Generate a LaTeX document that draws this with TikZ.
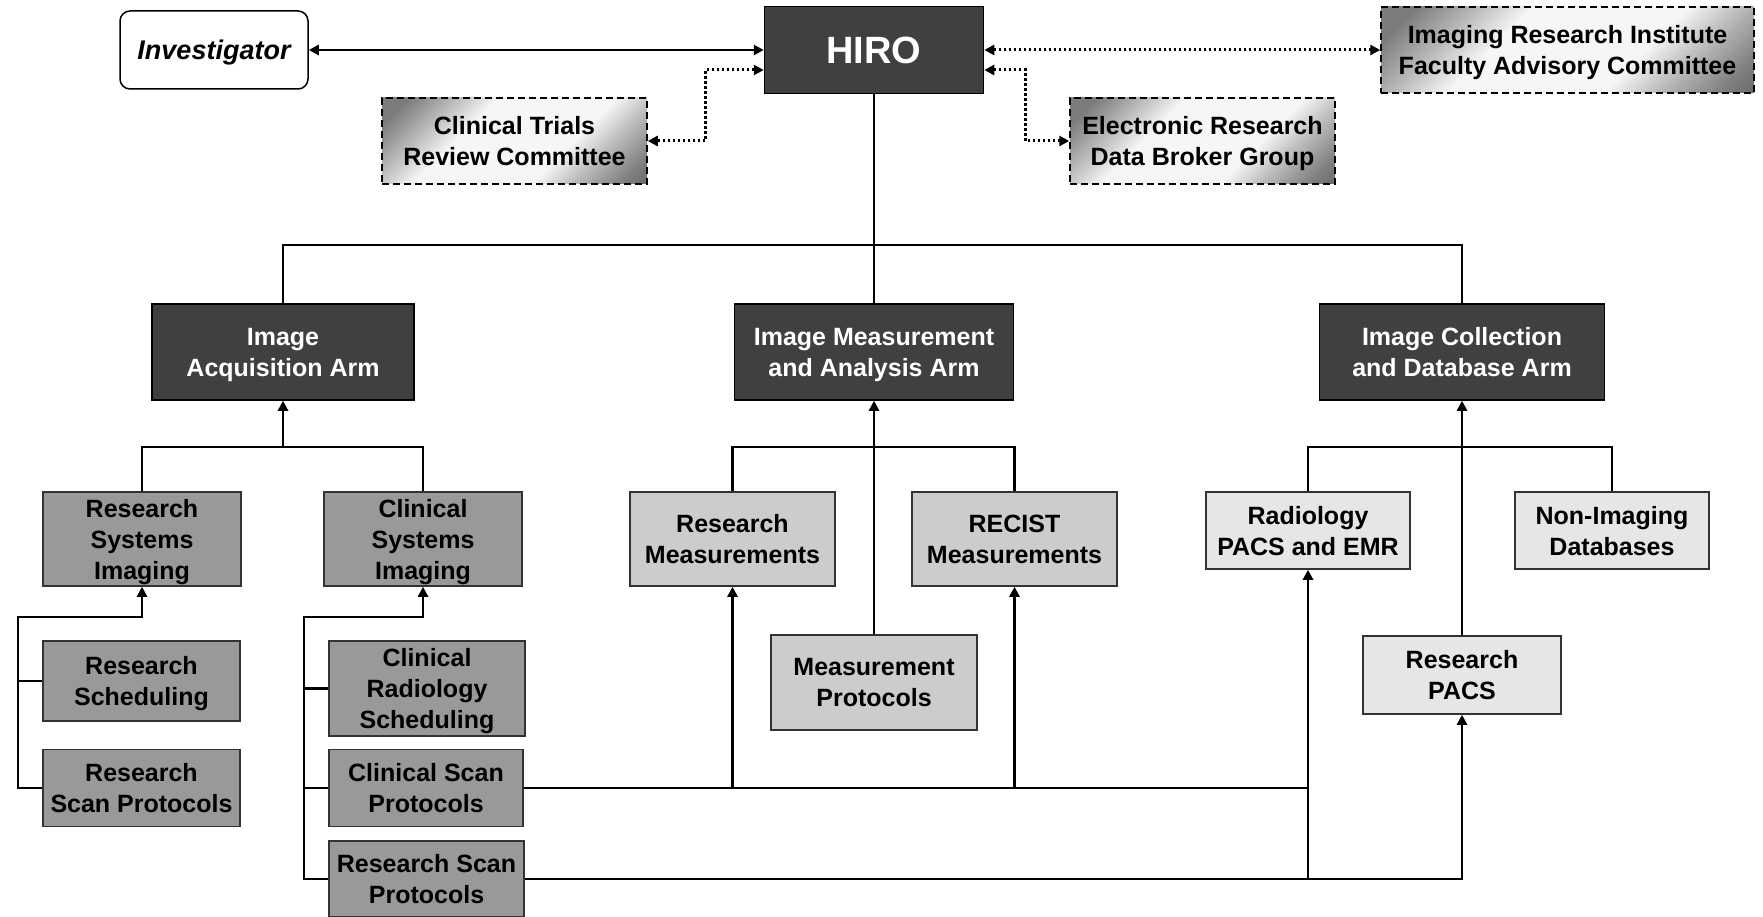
\documentclass[tikz,border=0pt]{standalone}
\usepackage{fontspec}
\setmainfont{Liberation Sans}
\usetikzlibrary{arrows.meta}

\definecolor{darkfill}{HTML}{404040}
\definecolor{midfill}{HTML}{999999}
\definecolor{lightfill}{HTML}{CCCCCC}
\definecolor{palefill}{HTML}{E6E6E6}
\definecolor{edgegray}{HTML}{333333}
\definecolor{shadedark}{HTML}{5A5A5A}
\definecolor{shadelow}{HTML}{808080}
\definecolor{shadetop}{HTML}{7C7C7C}
\definecolor{shademid}{HTML}{BEBEBE}
\definecolor{shadewhite}{HTML}{F6F6F6}

% dark in two opposite corners, white across the middle
\pgfdeclareverticalshading{cornershade}{100bp}{
    color(0bp)=(shadedark); color(10bp)=(shadedark); color(20bp)=(shadelow);
    color(30bp)=(shademid); color(38bp)=(shadewhite); color(62bp)=(shadewhite);
    color(70bp)=(shademid); color(80bp)=(shadetop); color(90bp)=(shadetop);
    color(100bp)=(shadetop)}

\tikzset{
    box/.style={draw=edgegray, line width=1.5pt, align=center, inner sep=2pt, text depth=0pt,
        font=\bfseries\fontsize{25}{31}\selectfont},
    darkbox/.style={box, draw=black, fill=darkfill, text=white},
    midbox/.style={box, fill=midfill},
    lightbox/.style={box, fill=lightfill},
    palebox/.style={box, fill=palefill},
    shadebox/.style={box, draw=black, dash pattern=on 7pt off 4pt,
        shading=cornershade, shading angle=45},
    link/.style={line width=2.5pt, draw=black},
    dotlink/.style={line width=3pt, draw=black, dash pattern=on 2.5pt off 2.5pt, <->},
}

\begin{document}
\begin{tikzpicture}[x=1pt, y=-1pt, >={Triangle[length=10pt,width=10pt]}]
    \useasboundingbox (0,0) rectangle (1763,917);

    % Top row: HIRO and its committees
    \node[darkbox, minimum width=219pt, minimum height=87pt, font=\bfseries\fontsize{38}{40}\selectfont] (hiro) at (874,50) {HIRO};
    \node[box, draw=black, rounded corners=10pt, fill=white, minimum width=188pt, minimum height=78pt,
        font=\bfseries\itshape\fontsize{27}{31}\selectfont] (inv) at (214,50) {Investigator};
    \node[shadebox, minimum width=265pt, minimum height=86pt] (ctrc) at (514.5,141) {Clinical Trials\\Review Committee};
    \node[shadebox, minimum width=265pt, minimum height=86pt] (erdb) at (1202.5,141) {Electronic Research\\Data Broker Group};
    \node[shadebox, minimum width=373pt, minimum height=86pt] (iri) at (1567.5,50) {Imaging Research Institute\\Faculty Advisory Committee};

    % The three arms
    \node[darkbox, minimum width=262pt, minimum height=96pt] (acq) at (283,352) {Image\\Acquisition Arm};
    \node[darkbox, minimum width=279pt, minimum height=96pt] (meas) at (874,352) {Image Measurement\\and Analysis Arm};
    \node[darkbox, minimum width=285pt, minimum height=96pt] (coll) at (1462,352) {Image Collection\\and Database Arm};

    % Acquisition arm
    \node[midbox, minimum width=198pt, minimum height=94pt] (rsi) at (142,539) {Research\\Systems\\Imaging};
    \node[midbox, minimum width=198pt, minimum height=94pt] (csi) at (423,539) {Clinical\\Systems\\Imaging};
    \node[midbox, minimum width=197pt, minimum height=80pt] (rsched) at (141.5,681) {Research\\Scheduling};
    \node[midbox, minimum width=197pt, minimum height=77pt] (rscan) at (141.5,788) {Research\\Scan Protocols};
    \node[midbox, minimum width=196pt, minimum height=95pt] (crsched) at (427,688.5) {Clinical\\Radiology\\Scheduling};
    \node[midbox, minimum width=194pt, minimum height=77pt] (cscan) at (426,788) {Clinical Scan\\Protocols};
    \node[midbox, minimum width=195pt, minimum height=76pt] (rscan2) at (426.5,879) {Research Scan\\Protocols};

    % Measurement arm
    \node[lightbox, minimum width=205pt, minimum height=94pt] (rmeas) at (732.5,539) {Research\\Measurements};
    \node[lightbox, minimum width=205pt, minimum height=94pt] (recist) at (1014.5,539) {RECIST\\Measurements};
    \node[lightbox, minimum width=206pt, minimum height=95pt] (mprot) at (874,682.5) {Measurement\\Protocols};

    % Collection arm
    \node[palebox, minimum width=204pt, minimum height=77pt] (radpacs) at (1308,530.5) {Radiology\\PACS and EMR};
    \node[palebox, minimum width=194pt, minimum height=77pt] (nonimg) at (1612,530.5) {Non-Imaging\\Databases};
    \node[palebox, minimum width=198pt, minimum height=78pt] (respacs) at (1462,675) {Research\\PACS};

    % HIRO links
    \draw[link, <->] (inv) -- (hiro);
    \draw[dotlink] (hiro) -- (iri);
    \draw[dotlink] ([yshift=-20pt]hiro.west) -| ([xshift=58pt]ctrc.east) -- (ctrc.east);
    \draw[dotlink] ([yshift=-20pt]hiro.east) -| ([xshift=-44pt]erdb.west) -- (erdb.west);

    % HIRO down to the arms
    \coordinate (armbus) at (874,245);
    \draw[link] (hiro) -- (meas);
    \draw[link] (acq.north) |- (armbus) -| (coll.north);

    % Units up to the arms
    \foreach \arm/\a/\b in {acq/rsi/csi, meas/rmeas/recist, coll/radpacs/nonimg} {
        \draw[link] (\a.north) |- ([yshift=-46pt]\arm.south) -| (\b.north);
    }
    \draw[link, ->] ([yshift=-46pt]acq.south) -- (acq.south);
    \draw[link, ->] (mprot) -- (meas);
    \draw[link, ->] (respacs) -- (coll);

    % Feeders of the imaging systems
    \coordinate (rsijoin) at (18,617);
    \coordinate (csijoin) at (304,617);
    \draw[link, ->] (rscan.west) -| (rsijoin) -| (rsi.south);
    \draw[link] (rsched.west) -- (rsched.west -| rsijoin);
    \draw[link, ->] (rscan2.west) -| (csijoin) -| (csi.south);
    \foreach \n in {crsched, cscan}
        \draw[link] (\n.west) -- (\n.west -| csijoin);

    % Protocol buses to measurement and collection
    \draw[link, ->] (cscan.east) -| (radpacs.south);
    \draw[link, ->] (rscan2.east) -| (respacs.south);
    \draw[link] (rscan2.east -| radpacs.south) -- (cscan.east -| radpacs.south);
    \foreach \n in {rmeas, recist}
        \draw[link, ->] (cscan.east -| \n.south) -- (\n.south);
\end{tikzpicture}
\end{document}
